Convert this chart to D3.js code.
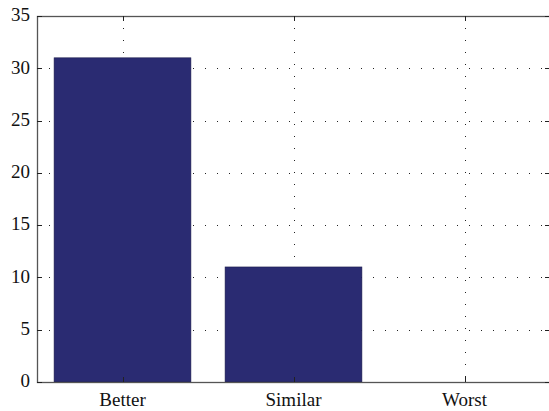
<!DOCTYPE html>
<html>
<head>
<meta charset="utf-8">
<script src="https://cdn.jsdelivr.net/npm/d3@7"></script>
<style>
  html, body { margin: 0; padding: 0; background: #fff; }
  svg { display: block; }
  text { font-family: "Liberation Serif", "DejaVu Serif", serif; fill: #111; }
</style>
</head>
<body>
<svg id="chart" width="549" height="411"></svg>
<script>
// Survey outcome counts
const categories = ["Better", "Similar", "Worst"];
const counts = [31, 11, 0];
const yTicks = [0, 5, 10, 15, 20, 25, 30, 35];

const W = 549, H = 411;
const margin = { left: 37, top: 16, right: -1, bottom: 29 };
const plotW = W - margin.left - margin.right;
const plotH = H - margin.top - margin.bottom;

const svg = d3.select("#chart");
const g = svg.append("g").attr("transform", `translate(${margin.left},${margin.top})`);

// Categories sit at 1..n on a continuous axis from 0.5 to n+0.5
const x = d3.scaleLinear().domain([0.5, categories.length + 0.5]).range([0, plotW]);
const y = d3.scaleLinear().domain([0, 35]).range([plotH, 0]);
const barW = (x(1.4) - x(0.6));

const gridStyle = sel => sel.attr("stroke", "#222").attr("stroke-width", 1)
  .attr("stroke-dasharray", "1,11");

// Horizontal grid
g.append("g").selectAll("line").data(yTicks.slice(1, -1)).join("line")
  .attr("x1", 0).attr("x2", plotW)
  .attr("y1", d => Math.round(y(d)) + 0.5).attr("y2", d => Math.round(y(d)) + 0.5)
  .call(gridStyle);

// Vertical grid
g.append("g").selectAll("line").data(categories).join("line")
  .attr("x1", (d, i) => Math.round(x(i + 1)) + 0.5).attr("x2", (d, i) => Math.round(x(i + 1)) + 0.5)
  .attr("y1", 0).attr("y2", plotH)
  .call(gridStyle);

// Bars
g.append("g").selectAll("rect").data(counts).join("rect")
  .attr("x", (d, i) => x(i + 1) - barW / 2)
  .attr("width", barW)
  .attr("y", d => y(d))
  .attr("height", d => y(0) - y(d))
  .attr("fill", "#2a2b72")
  .attr("stroke", "#1a1a4a")
  .attr("stroke-width", 0.6);

// Box and ticks
const axisColor = "#555";
g.append("rect").attr("x", 0.5).attr("y", 0.5).attr("width", plotW).attr("height", plotH)
  .attr("fill", "none").attr("stroke", axisColor).attr("stroke-width", 1.3);

const tickLen = 5;
const yt = g.append("g");
yTicks.forEach(v => {
  const yy = Math.round(y(v)) + 0.5;
  yt.append("line").attr("x1", 0).attr("x2", tickLen).attr("y1", yy).attr("y2", yy)
    .attr("stroke", "#222");
  yt.append("line").attr("x1", plotW - tickLen).attr("x2", plotW).attr("y1", yy).attr("y2", yy)
    .attr("stroke", "#222");
});
categories.forEach((c, i) => {
  const xx = Math.round(x(i + 1)) + 0.5;
  yt.append("line").attr("x1", xx).attr("x2", xx).attr("y1", 0).attr("y2", tickLen).attr("stroke", "#222");
  yt.append("line").attr("x1", xx).attr("x2", xx).attr("y1", plotH - tickLen).attr("y2", plotH).attr("stroke", "#222");
});

// Tick labels
g.append("g").selectAll("text").data(yTicks).join("text")
  .attr("x", -7).attr("y", d => y(d) - 1).attr("dy", "0.33em")
  .attr("text-anchor", "end").attr("font-size", 19)
  .text(d => d);

g.append("g").selectAll("text").data(categories).join("text")
  .attr("x", (d, i) => x(i + 1)).attr("y", plotH + 24)
  .attr("text-anchor", "middle").attr("font-size", 19)
  .text(d => d);
</script>
</body>
</html>
